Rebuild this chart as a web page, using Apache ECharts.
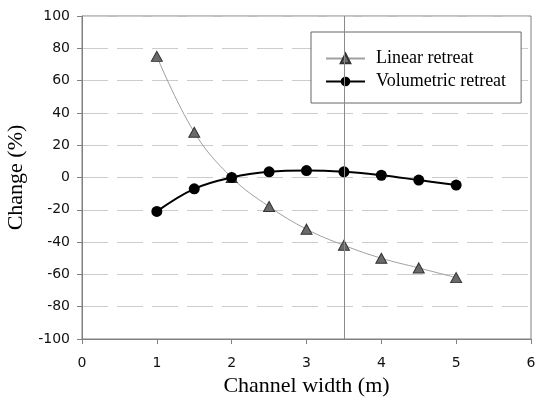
<!DOCTYPE html>
<html>
<head>
<meta charset="utf-8">
<script src="https://cdn.jsdelivr.net/npm/echarts@6/dist/echarts.min.js"></script>
<style>
  html, body { margin: 0; padding: 0; background: #fff; overflow: hidden; }
  #chart { width: 535px; height: 402px; }
</style>
</head>
<body>
<div id="chart"></div>
<script>
// Channel widths (m) at which both retreat modes were evaluated
var widths = [1, 1.5, 2, 2.5, 3, 3.5, 4, 4.5, 5];
// Change (%) for each retreat mode
var linearRetreat = [75, 28, 0, -18, -32, -42, -50, -56, -62];
var volumetricRetreat = [-21, -7, 0, 3.5, 4.3, 3.5, 1.4, -1.6, -4.7];
// Reference width marked by the vertical line
var referenceWidth = 3.5;
var seriesNames = ['Linear retreat', 'Volumetric retreat'];

function pairs(xs, ys) {
  return xs.map(function (x, i) { return [x, ys[i]]; });
}

var serif = 'Liberation Serif';
var sans = 'DejaVu Sans';
var frame = '#808080';

var chart = echarts.init(document.getElementById('chart'));
chart.setOption({
  animation: false,
  backgroundColor: '#ffffff',
  grid: {
    left: 82, right: 4, top: 16, bottom: 63,
    outerBoundsMode: 'none',
    containLabel: false,
    show: true, borderColor: frame, borderWidth: 1
  },
  legend: {
    orient: 'vertical',
    left: 311, top: 32,
    width: 210,
    backgroundColor: '#fff',
    borderColor: '#666',
    borderWidth: 1,
    borderRadius: 0,
    padding: [17, 15, 12, 14],
    itemWidth: 39,
    itemHeight: 12,
    itemGap: 4,
    data: seriesNames,
    textStyle: {
      fontFamily: serif, fontSize: 18, color: '#000',
      lineHeight: 19, padding: [0, 0, 0, 6]
    }
  },
  xAxis: {
    type: 'value',
    min: 0, max: 6, interval: 1,
    name: 'Channel width (m)',
    nameLocation: 'middle',
    nameGap: 34,
    nameTextStyle: { fontFamily: serif, fontSize: 22, color: '#000' },
    axisLine: { onZero: false, lineStyle: { color: frame, width: 1 } },
    axisTick: { show: true, length: 5, lineStyle: { color: frame } },
    axisLabel: { fontFamily: sans, fontSize: 14, color: '#111', margin: 17 },
    splitLine: { show: false }
  },
  yAxis: {
    type: 'value',
    min: -100, max: 100, interval: 20,
    name: 'Change (%)',
    nameLocation: 'middle',
    nameGap: 53,
    nameTextStyle: { fontFamily: serif, fontSize: 22, color: '#000' },
    axisLine: { show: true, onZero: false, lineStyle: { color: frame, width: 1 } },
    axisTick: { show: true, length: 5, lineStyle: { color: frame } },
    axisLabel: { fontFamily: sans, fontSize: 14, color: '#111', margin: 12 },
    splitLine: {
      show: true,
      lineStyle: { color: '#cccccc', width: 1, type: [26, 9] }
    }
  },
  series: [
    {
      name: seriesNames[0],
      type: 'line',
      smooth: 0.4,
      data: pairs(widths, linearRetreat),
      symbol: 'triangle',
      symbolSize: [11, 10],
      lineStyle: { color: '#a0a0a0', width: 1 },
      itemStyle: { color: '#6a6a6a', borderColor: '#333', borderWidth: 1 },
      markLine: {
        silent: true,
        symbol: 'none',
        label: { show: false },
        lineStyle: { color: '#8a8a8a', width: 1, type: 'solid' },
        data: [{ xAxis: referenceWidth }]
      },
      z: 2
    },
    {
      name: seriesNames[1],
      type: 'line',
      smooth: 0.4,
      data: pairs(widths, volumetricRetreat),
      symbol: 'circle',
      symbolSize: 11,
      lineStyle: { color: '#000', width: 2 },
      itemStyle: { color: '#000', borderColor: '#000', borderWidth: 0 },
      z: 3
    }
  ]
});
</script>
</body>
</html>
